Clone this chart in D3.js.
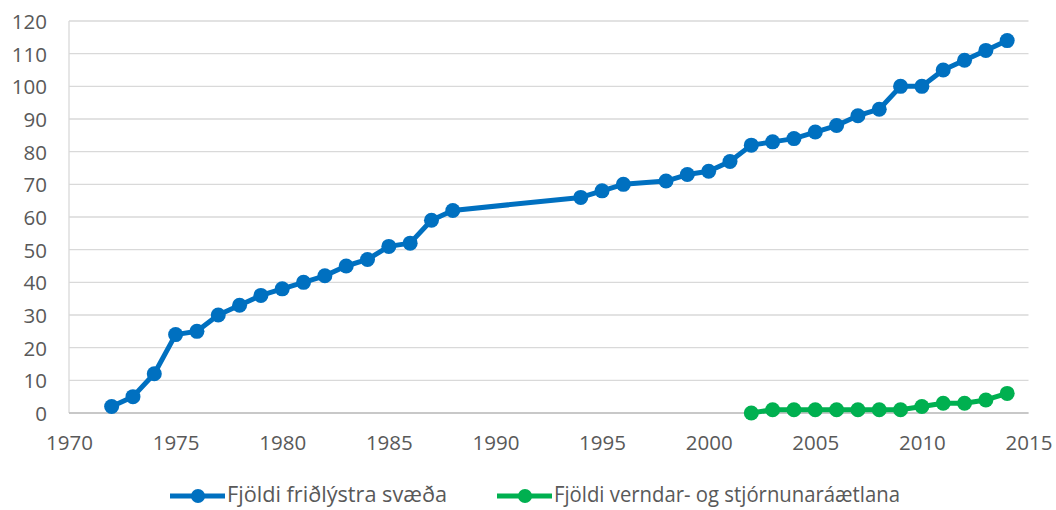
<!DOCTYPE html>
<html><head><meta charset="utf-8">
<script src="https://cdn.jsdelivr.net/npm/d3@7"></script>
<style>body{margin:0;background:#fff;} text{font-family:"Open Sans",sans-serif;fill:#595959;}</style>
</head><body><svg id="c" width="1056" height="510"></svg>
<script>
const blueYears = [1972,1973,1974,1975,1976,1977,1978,1979,1980,1981,1982,1983,1984,1985,1986,1987,1988,1994,1995,1996,1998,1999,2000,2001,2002,2003,2004,2005,2006,2007,2008,2009,2010,2011,2012,2013,2014];
const blueValues = [2,5,12,24,25,30,33,36,38,40,42,45,47,51,52,59,62,66,68,70,71,73,74,77,82,83,84,86,88,91,93,100,100,105,108,111,114];
const greenYears = [2002,2003,2004,2005,2006,2007,2008,2009,2010,2011,2012,2013,2014];
const greenValues = [0,1,1,1,1,1,1,1,2,3,3,4,6];
const seriesNames = ["Fjöldi friðlýstra svæða","Fjöldi verndar- og stjórnunaráætlana"];
const xTicks = [1970,1975,1980,1985,1990,1995,2000,2005,2010,2015];
const yTicks = [0,10,20,30,40,50,60,70,80,90,100,110,120];
const colors = ["#0070C0","#00B050"];

const svg = d3.select("#c");
const x = d3.scaleLinear().domain([1970,2015]).range([69,1028.5]);
const y = d3.scaleLinear().domain([0,120]).range([413,21]);

svg.append("g").selectAll("line").data(yTicks).join("line")
  .attr("x1",x(1970)).attr("x2",x(2015)).attr("y1",d=>y(d)).attr("y2",d=>y(d))
  .attr("stroke","#d9d9d9").attr("stroke-width",1.3);
svg.append("line").attr("x1",x(1970)).attr("x2",x(1970)).attr("y1",y(0)).attr("y2",y(120))
  .attr("stroke","#d9d9d9").attr("stroke-width",1.3);
svg.append("line").attr("x1",x(1970)).attr("x2",x(2015)).attr("y1",y(0)).attr("y2",y(0))
  .attr("stroke","#bfbfbf").attr("stroke-width",1.3);

const yAxis = d3.axisLeft(y).tickValues(yTicks).tickSize(0).tickPadding(0);
const gy = svg.append("g").attr("transform","translate(47,0)").call(yAxis);
gy.select(".domain").remove();
gy.attr("font-family",null).attr("font-size",null);
gy.selectAll("text").style("font-size","20.5px").style("font-family","'Open Sans',sans-serif").attr("fill","#595959").attr("dy","0.36em");

const xAxis = d3.axisBottom(x).tickValues(xTicks).tickFormat(d3.format("d")).tickSize(0).tickPadding(0);
const gx = svg.append("g").attr("transform","translate(0,435)").call(xAxis);
gx.select(".domain").remove();
gx.attr("font-family",null).attr("font-size",null);
gx.selectAll("text").style("font-size","20.5px").style("font-family","'Open Sans',sans-serif").attr("fill","#595959").attr("dy","0.71em");

const series = [
  blueYears.map((d,i)=>({x:d,y:blueValues[i]})),
  greenYears.map((d,i)=>({x:d,y:greenValues[i]}))
];
const line = d3.line().x(d=>x(d.x)).y(d=>y(d.y));
series.forEach((s,k)=>{
  svg.append("path").datum(s).attr("d",line).attr("fill","none")
    .attr("stroke",colors[k]).attr("stroke-width",5).attr("stroke-linejoin","round");
  svg.append("g").selectAll("circle").data(s).join("circle")
    .attr("cx",d=>x(d.x)).attr("cy",d=>y(d.y)).attr("r",7.5).attr("fill",colors[k]);
});

const legX = [170,497];
const legW = [220,346];
seriesNames.forEach((n,k)=>{
  const g = svg.append("g").attr("transform",`translate(${legX[k]},496)`);
  g.append("line").attr("x1",0).attr("x2",55).attr("stroke",colors[k]).attr("stroke-width",5);
  g.append("circle").attr("cx",28).attr("r",7).attr("fill",colors[k]);
  g.append("text").attr("x",57).attr("dy","0.3em").style("font-size","21px")
    .attr("textLength",legW[k]).attr("lengthAdjust","spacingAndGlyphs").text(n);
});
</script></body></html>
